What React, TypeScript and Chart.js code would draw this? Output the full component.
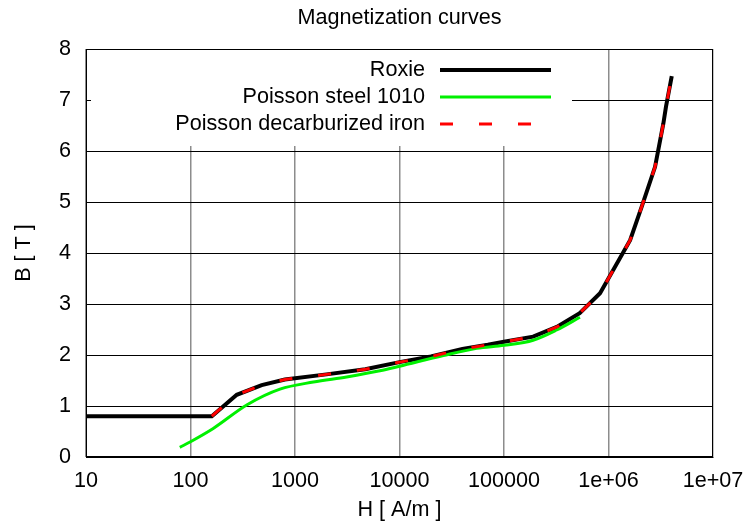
import React, { useEffect, useRef } from 'react';
import { Chart, registerables } from 'chart.js';

Chart.register(...registerables);

const TITLE = 'Magnetization curves';
const X_LABEL = 'H [ A/m ]';
const Y_LABEL = 'B [ T ]';

const X_TICKS = [10, 100, 1000, 10000, 100000, 1e6, 1e7];
const X_TICK_LABELS = ['10', '100', '1000', '10000', '100000', '1e+06', '1e+07'];
const Y_TICKS = [0, 1, 2, 3, 4, 5, 6, 7, 8];

const SERIES_NAMES = ['Roxie', 'Poisson steel 1010', 'Poisson decarburized iron'];

const ROXIE_H = [10, 160, 277, 480, 800, 2000, 4700, 10000, 20000, 40000, 70000, 100000, 190000, 320000, 530000, 830000, 1610000, 2080000, 2790000, 3350000, 3550000, 4030000];
const ROXIE_B = [0.8, 0.8, 1.22, 1.41, 1.52, 1.62, 1.72, 1.86, 1.97, 2.12, 2.2, 2.26, 2.36, 2.55, 2.82, 3.21, 4.25, 4.91, 5.69, 6.54, 6.87, 7.47];

const STEEL_H = [79, 100, 165, 345, 718, 1500, 3120, 6500, 10000, 26300, 54800, 100000, 190000, 319000, 533000];
const STEEL_B = [0.19, 0.3, 0.56, 1.02, 1.33, 1.47, 1.57, 1.69, 1.78, 1.99, 2.13, 2.19, 2.29, 2.49, 2.74];

const IRON_H = [160, 277, 480, 800, 2000, 4700, 10000, 20000, 40000, 70000, 100000, 190000, 320000, 530000, 830000, 1610000, 2080000, 2790000, 3350000, 3550000, 4030000];
const IRON_B = [0.8, 1.22, 1.41, 1.52, 1.62, 1.72, 1.86, 1.97, 2.12, 2.2, 2.26, 2.36, 2.55, 2.82, 3.21, 4.25, 4.91, 5.69, 6.54, 6.87, 7.47];

const FONT_FAMILY = '"Liberation Sans", Arial, Helvetica, sans-serif';
const FONT_SIZE = 21.6;

const toPoints = (xs: number[], ys: number[]) => xs.map((x, i) => ({ x, y: ys[i] }));

// gnuplot-style key drawn inside the plot, masking the grid behind it
const KEY = { right: 572, bottom: 146, textRight: 425, sampleLeft: 440, sampleRight: 551, firstRow: 70, rowStep: 27 };
const TITLE_Y = 18;

const keyPlugin = {
  id: 'gnuKey',
  beforeDatasetsDraw(chart: any) {
    const { ctx, chartArea: a, scales } = chart;
    ctx.save();
    ctx.fillStyle = '#ffffff';
    ctx.fillRect(a.left + 1, a.top + 1, KEY.right - a.left - 1, KEY.bottom - a.top - 1);
    ctx.strokeStyle = '#000';
    ctx.lineWidth = 1;
    ctx.strokeRect(Math.round(a.left) + 0.5, Math.round(a.top) + 0.5, Math.round(a.right - a.left) - 1, Math.round(a.bottom - a.top) - 1);
    const y7 = Math.round(scales.y.getPixelForValue(7)) + 0.5;
    ctx.beginPath();
    ctx.moveTo(a.left, y7);
    ctx.lineTo(a.left + 5, y7);
    ctx.stroke();

    ctx.font = `${FONT_SIZE}px ${FONT_FAMILY}`;
    ctx.fillStyle = '#000';
    ctx.textAlign = 'center';
    ctx.textBaseline = 'middle';
    ctx.fillText(TITLE, (a.left + a.right) / 2, TITLE_Y);

    ctx.textAlign = 'right';
    chart.data.datasets.forEach((ds: any, i: number) => {
      const y = KEY.firstRow + i * KEY.rowStep;
      ctx.fillStyle = '#000';
      ctx.fillText(ds.label, KEY.textRight, y);
      ctx.save();
      ctx.strokeStyle = ds.borderColor;
      ctx.lineWidth = ds.borderWidth;
      ctx.setLineDash(ds.borderDash || []);
      ctx.beginPath();
      ctx.moveTo(KEY.sampleLeft, y);
      ctx.lineTo(KEY.sampleRight, y);
      ctx.stroke();
      ctx.restore();
    });
    ctx.restore();
  },
};

export default function App() {
  const ref = useRef<HTMLCanvasElement>(null);

  useEffect(() => {
    if (!ref.current) return;
    const font = { family: FONT_FAMILY, size: FONT_SIZE, weight: 'normal' as const };
    const chart = new Chart(ref.current, {
      type: 'line',
      data: {
        datasets: [
          {
            label: SERIES_NAMES[0],
            data: toPoints(ROXIE_H, ROXIE_B),
            borderColor: '#000000',
            borderWidth: 4,
            pointRadius: 0,
            tension: 0,
            order: 2,
          },
          {
            label: SERIES_NAMES[1],
            data: toPoints(STEEL_H, STEEL_B),
            borderColor: '#00f000',
            borderWidth: 3,
            pointRadius: 0,
            cubicInterpolationMode: 'monotone',
            order: 1,
          },
          {
            label: SERIES_NAMES[2],
            data: toPoints(IRON_H, IRON_B),
            borderColor: '#ff0000',
            borderWidth: 3,
            borderDash: [13, 26],
            pointRadius: 0,
            tension: 0,
            order: 0,
          },
        ],
      },
      options: {
        animation: false,
        responsive: true,
        maintainAspectRatio: false,
        layout: { padding: { left: 0, right: 34, top: 49, bottom: 0 } },
        plugins: {
          legend: { display: false },
          tooltip: { enabled: false },
          title: { display: false },
        },
        scales: {
          x: {
            type: 'logarithmic',
            min: X_TICKS[0],
            max: X_TICKS[X_TICKS.length - 1],
            afterBuildTicks: (s: any) => {
              s.ticks = X_TICKS.map((v) => ({ value: v }));
            },
            afterFit: (s: any) => {
              s.height = 69;
              s.paddingLeft = 0;
              s.paddingRight = 0;
            },
            grid: { color: '#8c8c8c', lineWidth: 1.5, drawTicks: false },
            border: { display: true, color: '#000', width: 1 },
            ticks: {
              color: '#000',
              font,
              padding: 11,
              autoSkip: false,
              maxRotation: 0,
              callback: (_v: any, i: number) => X_TICK_LABELS[i],
            },
            title: { display: true, text: X_LABEL, color: '#000', font, padding: { top: 0, bottom: 3 } },
          },
          y: {
            type: 'linear',
            min: Y_TICKS[0],
            max: Y_TICKS[Y_TICKS.length - 1],
            afterBuildTicks: (s: any) => {
              s.ticks = Y_TICKS.map((v) => ({ value: v }));
            },
            afterFit: (s: any) => {
              s.width = 86;
              s.paddingTop = 0;
              s.paddingBottom = 0;
            },
            grid: { color: '#000', lineWidth: 1, drawTicks: false },
            border: { display: true, color: '#000', width: 1 },
            ticks: { color: '#000', font, padding: 15, callback: (v: any) => String(v) },
            title: { display: true, text: Y_LABEL, color: '#000', font, padding: { top: 11, bottom: 0 } },
          },
        },
      },
      plugins: [keyPlugin],
    } as any);
    return () => chart.destroy();
  }, []);

  return (
    <div style={{ position: 'absolute', left: 0, top: 0, width: 747, height: 526, background: '#fff' }}>
      <canvas ref={ref} />
    </div>
  );
}
